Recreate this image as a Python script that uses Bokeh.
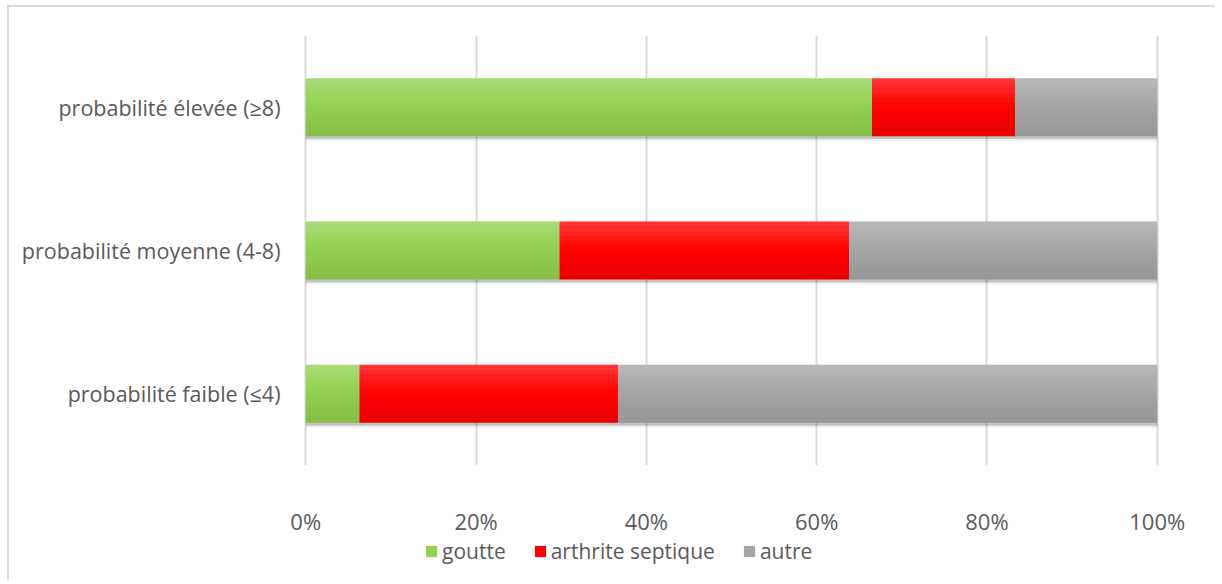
from bokeh.plotting import figure
from bokeh.layouts import column
from bokeh.models import (ColumnDataSource, FactorRange, Range1d, Legend, LegendItem,
                          NumeralTickFormatter, FixedTicker)
from bokeh.transform import dodge
from bokeh.embed import file_html
from bokeh.resources import INLINE

categories = ["probabilité faible (≤4)", "probabilité moyenne (4-8)", "probabilité élevée (≥8)"]
goutte = [0.063, 0.298, 0.665]
arthrite = [0.304, 0.340, 0.168]
autre = [0.633, 0.362, 0.167]
series_names = ["goutte", "arthrite septique", "autre"]
colors = ["#92d050", "#ff0000", "#a5a5a5"]
x_ticks = [0, 0.2, 0.4, 0.6, 0.8, 1.0]

FONT = "Open Sans"
TXT = "#595959"

g_end = [a for a in goutte]
a_end = [a + b for a, b in zip(goutte, arthrite)]
o_end = [a + b + c for a, b, c in zip(goutte, arthrite, autre)]
src = ColumnDataSource(dict(cat=categories, zero=[0] * 3, g=g_end, a=a_end, o=o_end))

yr = FactorRange(factors=categories, range_padding=0)
xr = Range1d(-0.005, 1.005)

p = figure(width=1206, height=531, output_backend="svg", toolbar_location=None,
           y_range=yr, x_range=xr,
           min_border_left=292, min_border_right=54, min_border_top=28, min_border_bottom=73)
p.outline_line_color = None
p.ygrid.grid_line_color = None
p.xgrid.grid_line_color = "#d9d9d9"
p.xgrid.grid_line_width = 2
p.xaxis.ticker = FixedTicker(ticks=x_ticks)
p.xaxis.formatter = NumeralTickFormatter(format="0%")

for ax in (p.xaxis[0], p.yaxis[0]):
    ax.axis_line_color = None
    ax.major_tick_line_color = None
    ax.minor_tick_line_color = None
    ax.major_tick_out = 0
    ax.major_tick_in = 0
    ax.major_label_text_font = FONT
    ax.major_label_text_color = TXT
p.xaxis.major_label_text_font_size = "22px"
p.yaxis.major_label_text_font_size = "21.5px"
p.xaxis.major_label_standoff = 40
p.yaxis.major_label_standoff = 21

H = 0.405
segments = (("zero", "g"), ("g", "a"), ("a", "o"))
# shadows
for left, right in segments:
    p.hbar(y=dodge("cat", -0.02, range=yr), left=left, right=right, height=H, source=src,
           fill_color="black", fill_alpha=0.18, line_color=None)
    p.hbar(y=dodge("cat", -0.035, range=yr), left=left, right=right, height=H, source=src,
           fill_color="black", fill_alpha=0.06, line_color=None)

N = 12
for (left, right), c in zip(segments, colors):
    p.hbar(y="cat", left=left, right=right, height=H, source=src,
           fill_color=c, line_color=None)
    # thin bands to suggest the vertical gradient
    for i in range(N):
        t = (i + 0.5) / N
        off = H * (0.5 - t)
        if t < 0.5:
            fc, fa = "white", 0.22 * (0.5 - t) * 2
        else:
            fc, fa = "black", 0.09 * (t - 0.5) * 2
        p.hbar(y=dodge("cat", off, range=yr), left=left, right=right, height=H / N * 1.02,
               source=src, fill_color=fc, fill_alpha=fa, line_color=None)

# legend strip (shares the ranges; its renderers are hidden, only the legend shows)
p2 = figure(width=1206, height=42, output_backend="svg", toolbar_location=None,
            x_range=xr, y_range=yr,
            x_axis_location=None, y_axis_location=None,
            min_border_left=292, min_border_right=54, min_border_top=0, min_border_bottom=0)
p2.outline_line_color = None
p2.grid.visible = False
lr = []
for (left, right), c in zip(segments, colors):
    lr.append(p2.hbar(y="cat", left=left, right=right, height=H, source=src,
                      fill_color=c, line_color=None, visible=False))
legend = Legend(items=[LegendItem(label=n, renderers=[r]) for n, r in zip(series_names, lr)],
                location=(123, 15), orientation="horizontal",
                glyph_width=14, glyph_height=14, label_standoff=4, spacing=27,
                padding=0, margin=0, border_line_color=None, background_fill_alpha=0,
                label_text_font=FONT, label_text_font_size="21px", label_text_color=TXT)
p2.add_layout(legend, "center")

layout = column(p, p2, spacing=0)
layout.styles = {"transform": "translate(7px, 5px)",
                 "border-left": "2px solid #d9d9d9", "border-top": "2px solid #d9d9d9"}

open("out.html", "w").write(file_html(layout, INLINE))
